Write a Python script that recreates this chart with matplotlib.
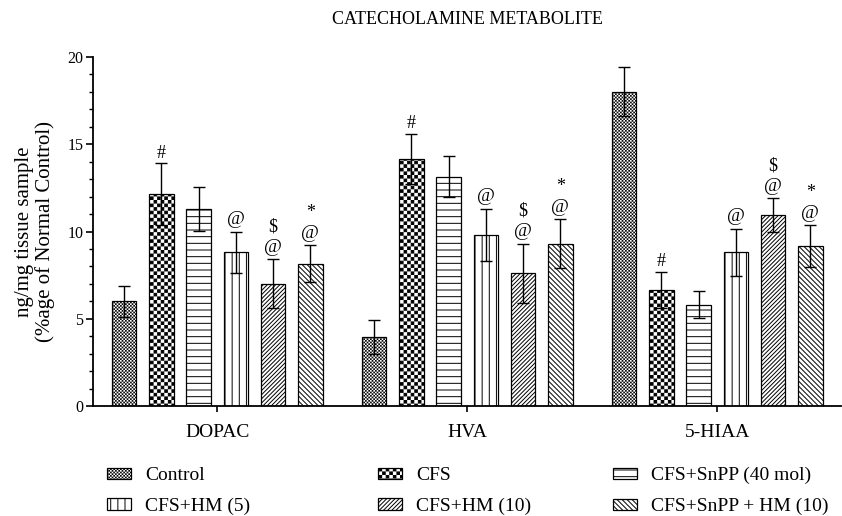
import numpy as np
import matplotlib
matplotlib.use('Agg')
import matplotlib.pyplot as plt
from matplotlib import hatch as mhatch
from matplotlib.path import Path
from matplotlib.patches import Patch

# ---------------- data ----------------
groups = ['DOPAC', 'HVA', '5-HIAA']
series = ['Control', 'CFS', 'CFS+SnPP (40 mol)', 'CFS+HM (5)', 'CFS+HM (10)', 'CFS+SnPP + HM (10)']

control = [6.0, 3.95, 18.0]
cfs = [12.15, 14.15, 6.65]
snpp = [11.3, 13.15, 5.8]
hm5 = [8.8, 9.8, 8.8]
hm10 = [7.0, 7.6, 10.95]
snpp_hm10 = [8.15, 9.3, 9.15]

control_err = [0.9, 0.95, 1.4]
cfs_err = [1.75, 1.45, 1.05]
snpp_err = [1.25, 1.2, 0.77]
hm5_err = [1.2, 1.5, 1.35]
hm10_err = [1.4, 1.7, 0.95]
snpp_hm10_err = [1.05, 1.4, 1.2]

# significance marks (bottom to top) per series per group
control_marks = [[], [], []]
cfs_marks = [['#'], ['#'], ['#']]
snpp_marks = [[], [], []]
hm5_marks = [['@'], ['@'], ['@']]
hm10_marks = [['@', '$'], ['@', '$'], ['@', '$']]
snpp_hm10_marks = [['@', '*'], ['@', '*'], ['@', '*']]

values = [control, cfs, snpp, hm5, hm10, snpp_hm10]
errors = [control_err, cfs_err, snpp_err, hm5_err, hm10_err, snpp_hm10_err]
marks = [control_marks, cfs_marks, snpp_marks, hm5_marks, hm10_marks, snpp_hm10_marks]
hatches = ['.', '*', '-', '|', '/', '\\']

# ---------------- custom hatch patterns ----------------
HATCH_LW = 0.7
HATCH_SPEC = {'-': ('h', 15), '|': ('v', 14), '/': ('ne', 24), '\\': ('se', 20),
              '.': ('chk', 60), '*': ('chk', 28)}


class CustomHatch(mhatch.HatchPatternBase):
    def __init__(self, hatch, density):
        verts, codes = [], []
        hatch = hatch or ''
        for ch, (kind, n) in HATCH_SPEC.items():
            if ch not in hatch:
                continue
            if kind == 'h':
                for k in range(n):
                    y = (k + 0.5) / n
                    verts += [(0, y), (1, y)]
                    codes += [Path.MOVETO, Path.LINETO]
            elif kind == 'v':
                for k in range(n):
                    x = (k + 0.5) / n
                    verts += [(x, 0), (x, 1)]
                    codes += [Path.MOVETO, Path.LINETO]
            elif kind == 'ne':
                for k in range(-n - 1, n + 1):
                    c = (k + 0.5) / n
                    verts += [(c, 0), (c + 1, 1)]
                    codes += [Path.MOVETO, Path.LINETO]
            elif kind == 'se':
                for k in range(-1, 2 * n + 1):
                    c = (k + 0.5) / n
                    verts += [(c, 0), (c - 1, 1)]
                    codes += [Path.MOVETO, Path.LINETO]
            elif kind == 'chk':
                s = 1.0 / n
                m = HATCH_LW / 72.0 / 2.0
                for i in range(n):
                    for j in range(n):
                        if (i + j) % 2 == 0:
                            x0, y0 = i * s + m, j * s + m
                            x1, y1 = (i + 1) * s - m, (j + 1) * s - m
                            verts += [(x0, y0), (x1, y0), (x1, y1), (x0, y1), (x0, y0)]
                            codes += [Path.MOVETO, Path.LINETO, Path.LINETO,
                                      Path.LINETO, Path.CLOSEPOLY]
        self._v = np.array(verts, dtype=float).reshape(-1, 2)
        self._c = np.array(codes, dtype=Path.code_type)
        self.num_vertices = len(self._c)

    def set_vertices_and_codes(self, vertices, codes):
        vertices[:] = self._v
        codes[:] = self._c


mhatch._hatch_types[:] = [CustomHatch]

# ---------------- style ----------------
plt.rcParams['font.family'] = ['Liberation Serif', 'DejaVu Serif']
plt.rcParams['hatch.linewidth'] = HATCH_LW
plt.rcParams['hatch.color'] = 'black'

fig = plt.figure(figsize=(8.42, 5.16), dpi=100)
ax = fig.add_axes([93 / 842, 1 - 406 / 516, (841 - 93) / 842, (406 - 57) / 516])

x = np.arange(len(groups))
bw = 0.098
step = 0.149

for i, (vals, errs, hat, mk) in enumerate(zip(values, errors, hatches, marks)):
    xs = x + (i - 2.5) * step
    ax.bar(xs, vals, width=bw, facecolor='white', edgecolor='black',
           linewidth=0.9, hatch=hat, zorder=2)
    ax.errorbar(xs, vals, yerr=errs, fmt='none', ecolor='black', elinewidth=1.0,
                capsize=4.3, capthick=1.0, zorder=3)
    for xi, v, e, syms in zip(xs, vals, errs, mk):
        for k, sym in enumerate(syms):
            off = (7.5 if sym == '#' else 8.6) + k * 15.0
            ax.annotate(sym, xy=(xi, v + e), xytext=(0, off), textcoords='offset points',
                        ha='center', va='center', fontsize=14 if sym == '@' else 13,
                        zorder=4)

ax.set_xlim(-0.497, 2.495)
ax.set_ylim(0, 20)
ax.set_yticks([0, 5, 10, 15, 20])
ax.set_yticks(np.arange(0, 21, 1), minor=True)
ax.set_xticks(x)
ax.set_xticklabels(groups, fontsize=14)
ax.tick_params(axis='y', which='major', length=5, width=1.2, labelsize=11.5, pad=2)
ax.tick_params(axis='y', which='minor', length=3, width=1.0)
ax.tick_params(axis='x', which='major', length=4, width=1.2, pad=9)
for s in ['top', 'right']:
    ax.spines[s].set_visible(False)
for s in ['left', 'bottom']:
    ax.spines[s].set_linewidth(1.3)

fig.text(467 / 842, 1 - 20 / 516, 'CATECHOLAMINE METABOLITE', ha='center', va='center',
         fontsize=13)
fig.text(35 / 842, 1 - 232 / 516, 'ng/mg tissue sample\n(%age of Normal Control)',
         rotation=90, ha='center', va='center', multialignment='center', fontsize=15,
         linespacing=1.1)

# legend: three columns, two rows
handles = [Patch(facecolor='white', edgecolor='black', linewidth=0.9, hatch=h) for h in hatches]
col_x = [107, 378, 613]
for c in range(3):
    hs = [handles[c], handles[c + 3]]
    ls = [series[c], series[c + 3]]
    fig.legend(hs, ls, loc='center left', bbox_to_anchor=(col_x[c] / 842, 1 - 491 / 516),
               frameon=False, fontsize=14, handlelength=1.25, handleheight=0.5,
               handletextpad=0.72, labelspacing=0.7, borderpad=0, borderaxespad=0)

fig.savefig('out.png', dpi=100)
